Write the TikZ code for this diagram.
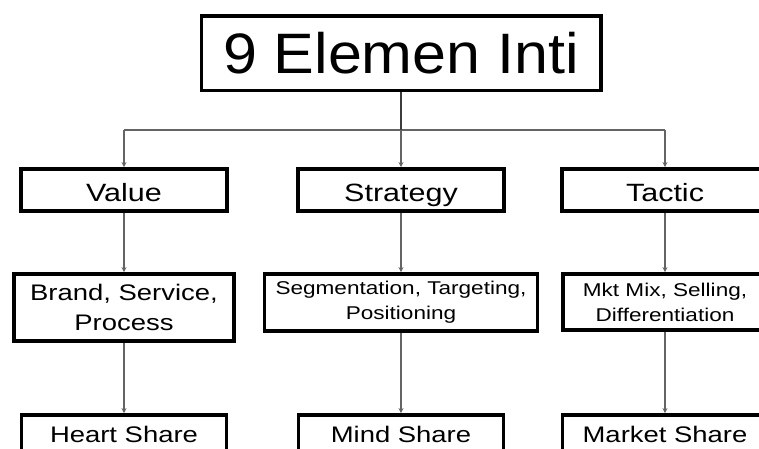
\documentclass[tikz,border=0pt]{standalone}
\usepackage{fontspec}
\setmainfont{Liberation Sans}
\newfontfamily\boxfont[FakeStretch=1.22]{Liberation Sans}
\newfontfamily\titlefont[FakeStretch=1.07]{Liberation Sans}
\usetikzlibrary{arrows.meta}
\definecolor{stemgray}{RGB}{60,60,60}
\definecolor{linkgray}{RGB}{100,100,100}
\tikzset{
  box/.style={draw, line width=3.8pt, inner sep=0pt, align=center},
  bigbox/.style={box, font=\boxfont\fontsize{25}{30}\selectfont,
                 minimum width=206pt, minimum height=42pt,
                 text height=25pt, text depth=3pt},
  midbox/.style={box, font=\boxfont\fontsize{22.5}{30}\selectfont},
  smallbox/.style={box, font=\boxfont\fontsize{18.5}{25}\selectfont},
  endbox/.style={midbox, minimum width=205pt, minimum height=46pt,
                 text height=16pt, text depth=0pt},
  link/.style={draw=linkgray, line width=1.1pt},
  linkarrow/.style={link, -{Stealth[length=5pt,width=5pt]}},
}
\begin{document}
\begin{tikzpicture}[x=1pt,y=-1pt]
\useasboundingbox (0,0) rectangle (759,448);
\clip (0,0) rectangle (759,448);
\fill[white] (0,0) rectangle (759,448);

% title
\node[box, line width=3.5pt, minimum width=399.5pt, minimum height=74.5pt,
      font=\titlefont\fontsize{57}{60}\selectfont] (title) at (401,53) {9 Elemen Inti};

% first row
\node[bigbox] (value)    at (124,190) {Value};
\node[bigbox] (strategy) at (401,190) {Strategy};
\node[bigbox] (tactic)   at (665,190) {Tactic};

% second row
\node[midbox, minimum width=220pt, minimum height=67pt] (brand) at (124,307.5) {Brand, Service,\\Process};
\node[smallbox, minimum width=273pt, minimum height=57pt] (stp) at (401,302.5) {Segmentation, Targeting,\\Positioning};
\node[smallbox, minimum width=204pt, minimum height=56pt] (mix) at (665,302) {Mkt Mix, Selling,\\Differentiation};

% third row (runs past the lower edge)
\node[endbox] (heart)  at (124,438) {\raisebox{4pt}{Heart Share}};
\node[endbox] (mind)   at (401,438) {\raisebox{4pt}{Mind Share}};
\node[endbox] (market) at (665,438) {\raisebox{4pt}{Market Share}};

% distribution bus
\coordinate (busL) at (124,130);
\coordinate (busM) at (401,130);
\coordinate (busR) at (665,130);
\draw[link] (busL) -- (busR);
\draw[draw=stemgray, line width=1.3pt] (title.south) -- (busM);
\draw[linkarrow] (busL) -- (value.north);
\draw[linkarrow] (busM) -- (strategy.north);
\draw[linkarrow] (busR) -- (tactic.north);

% columns
\draw[linkarrow] (value.south) -- (brand.north);
\draw[linkarrow] (brand.south) -- (heart.north);
\draw[linkarrow] (strategy.south) -- (stp.north);
\draw[linkarrow] (stp.south) -- (mind.north);
\draw[linkarrow] (tactic.south) -- (mix.north);
\draw[linkarrow] (mix.south) -- (market.north);
\end{tikzpicture}
\end{document}
